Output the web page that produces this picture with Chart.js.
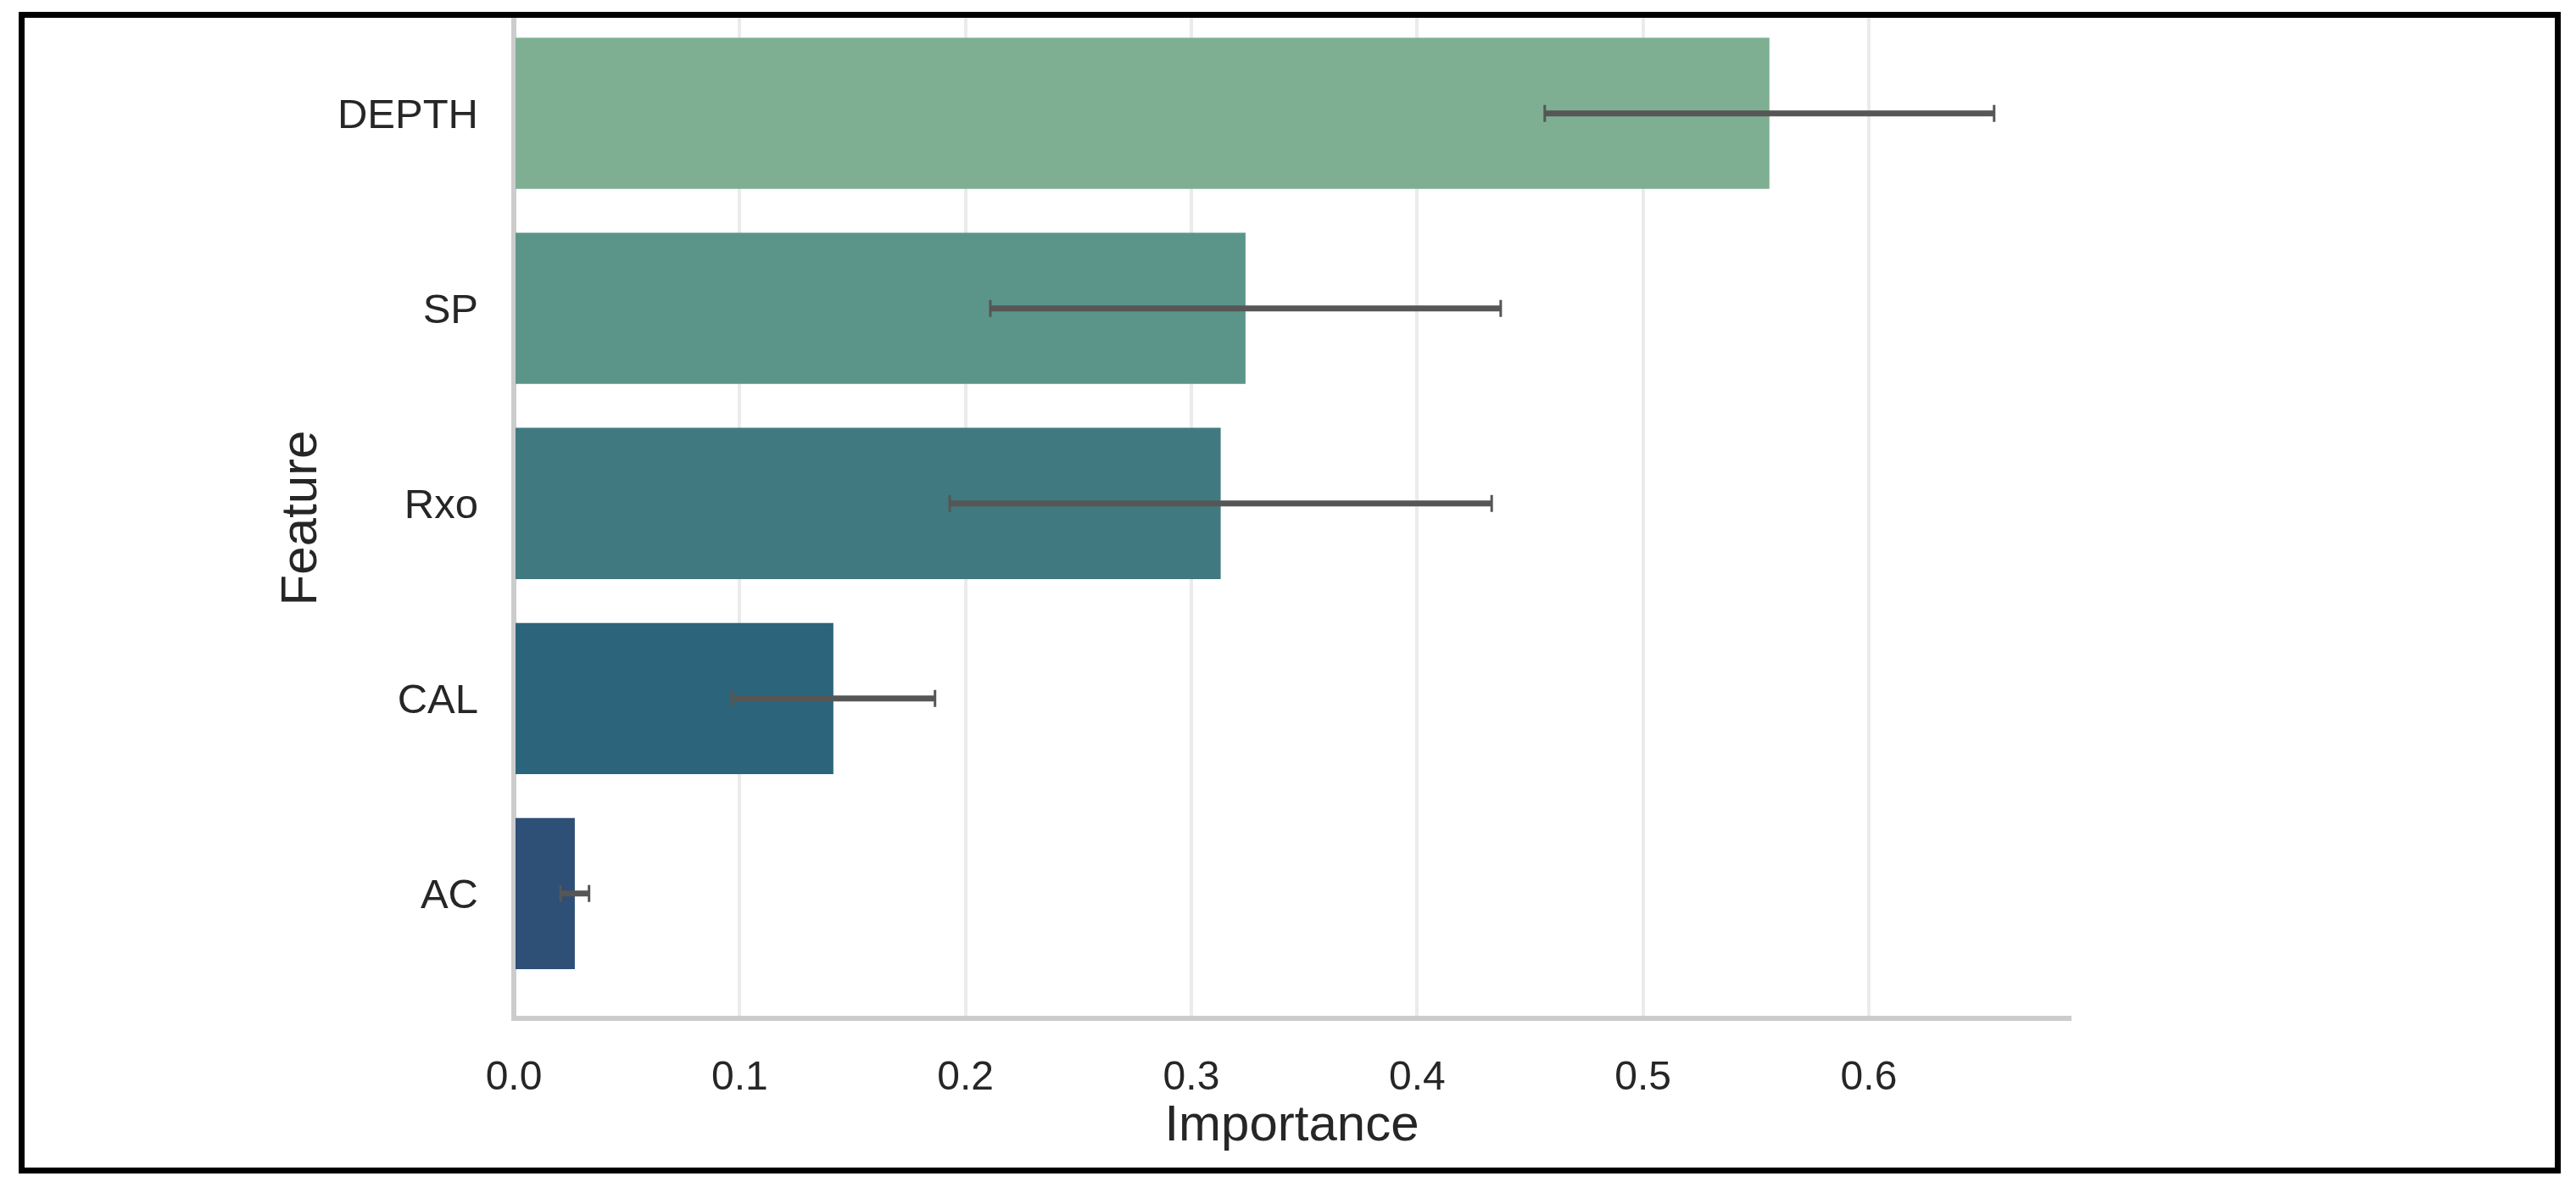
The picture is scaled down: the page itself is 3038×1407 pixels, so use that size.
<!DOCTYPE html>
<html>
<head>
<meta charset="utf-8">
<script src="https://cdn.jsdelivr.net/npm/chart.js@4"></script>
<style>
  html, body { margin: 0; padding: 0; background: #ffffff; }
  #wrap { position: relative; width: 3038px; height: 1407px; }
  #frame { position: absolute; left: 22px; top: 14px; width: 2998px; height: 1370px; box-sizing: border-box; border: 7px solid #000; pointer-events: none; }
</style>
</head>
<body>
<div id="wrap">
  <canvas id="c"></canvas>
  <div id="frame"></div>
</div>
<script>
// ---- data ----
const categories = ['DEPTH', 'SP', 'Rxo', 'CAL', 'AC'];
const importance = [0.556, 0.324, 0.313, 0.1415, 0.027];
const errors     = [0.0995, 0.113, 0.120, 0.045, 0.0063];
const barColors  = ['#7faf93', '#5b958a', '#407a80', '#2c657b', '#2e4f76'];
const xTicks     = [0.0, 0.1, 0.2, 0.3, 0.4, 0.5, 0.6];
const xTitle = 'Importance';
const yTitle = 'Feature';

const FONT = "'Liberation Sans', Arial, sans-serif";
const TEXT = '#262626';

const errorBars = {
  id: 'errorBars',
  afterDatasetsDraw(chart) {
    const ctx = chart.ctx;
    const xs = chart.scales.x;
    const meta = chart.getDatasetMeta(0);
    ctx.save();
    ctx.strokeStyle = '#565656';
    meta.data.forEach((bar, i) => {
      const y = bar.y;
      const x0 = xs.getPixelForValue(importance[i] - errors[i]);
      const x1 = xs.getPixelForValue(importance[i] + errors[i]);
      ctx.lineWidth = 7;
      ctx.beginPath();
      ctx.moveTo(x0, y); ctx.lineTo(x1, y);
      ctx.stroke();
      ctx.lineWidth = 3;
      ctx.beginPath();
      ctx.moveTo(x0, y - 10); ctx.lineTo(x0, y + 10);
      ctx.moveTo(x1, y - 10); ctx.lineTo(x1, y + 10);
      ctx.stroke();
    });
    ctx.restore();
  }
};

new Chart(document.getElementById('c'), {
  type: 'bar',
  data: {
    datasets: [{
      data: categories.map((c, i) => ({ x: importance[i], y: i })),
      backgroundColor: barColors,
      borderWidth: 0,
      categoryPercentage: 1.0,
      barPercentage: 0.775
    }]
  },
  plugins: [errorBars],
  options: {
    indexAxis: 'y',
    responsive: true,
    maintainAspectRatio: false,
    animation: false,
    layout: { autoPadding: false, padding: { left: 0, top: 21, right: 597, bottom: 0 } },
    plugins: { legend: { display: false }, tooltip: { enabled: false } },
    scales: {
      x: {
        type: 'linear',
        position: 'bottom',
        offset: false,
        min: 0,
        max: 0.689,
        afterBuildTicks: (axis) => { axis.ticks = xTicks.map(v => ({ value: v })); },
        afterFit: (axis) => { axis.height = 206; axis.paddingLeft = 0; axis.paddingRight = 0; },
        ticks: {
          padding: 42,
          color: TEXT,
          font: { family: FONT, size: 48 },
          callback: (v) => Number(v).toFixed(1)
        },
        grid: { display: true, offset: false, color: '#ebebeb', lineWidth: 4, drawTicks: false },
        border: { display: true, color: '#cccccc', width: 6 },
        title: {
          display: true,
          text: xTitle,
          color: TEXT,
          font: { family: FONT, size: 60 },
          padding: { top: 0, bottom: 43 }
        }
      },
      y: {
        type: 'linear',
        position: 'left',
        offset: false,
        reverse: true,
        min: -0.49,
        max: 4.64,
        afterBuildTicks: (axis) => { axis.ticks = categories.map((c, i) => ({ value: i })); },
        afterFit: (axis) => { axis.width = 606; axis.paddingTop = 0; axis.paddingBottom = 0; },
        ticks: {
          padding: 42,
          labelOffset: 4,
          color: TEXT,
          font: { family: FONT, size: 49 },
          callback: (v) => categories[v] !== undefined ? categories[v] : ''
        },
        grid: { display: false, offset: false, drawTicks: false },
        border: { display: true, color: '#cccccc', width: 6 },
        title: {
          display: true,
          text: yTitle,
          color: TEXT,
          font: { family: FONT, size: 60 },
          padding: { top: 320, bottom: 0 }
        }
      }
    }
  }
});
</script>
</body>
</html>
